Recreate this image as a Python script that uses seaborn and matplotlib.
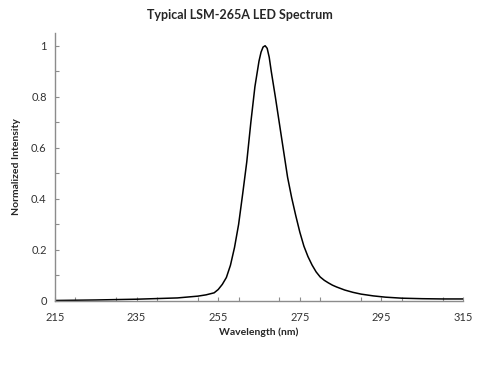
import numpy as np
import pandas as pd
import matplotlib
matplotlib.use("Agg")
import matplotlib.pyplot as plt
from matplotlib.ticker import MultipleLocator
import seaborn as sns

# spectrum
wavelength = [215, 225, 235, 245, 250, 252, 254, 255, 256, 257, 258, 259, 260,
              261, 262, 263, 264, 265, 265.5, 266, 266.5, 267, 267.5, 268, 269,
              270, 271, 272, 273, 274, 275, 276, 277, 278, 279, 280, 281, 282,
              283, 284, 286, 288, 290, 293, 296, 300, 305, 310, 315]
intensity = [0.002, 0.004, 0.007, 0.012, 0.019, 0.024, 0.032, 0.045, 0.065,
             0.092, 0.14, 0.21, 0.30, 0.42, 0.545, 0.70, 0.84, 0.94, 0.975,
             0.995, 1.0, 0.99, 0.955, 0.90, 0.80, 0.695, 0.59, 0.485, 0.405,
             0.335, 0.27, 0.215, 0.174, 0.141, 0.114, 0.094, 0.081, 0.071,
             0.062, 0.055, 0.043, 0.034, 0.027, 0.02, 0.015, 0.011, 0.009,
             0.008, 0.008]

x_ticks = [215, 235, 255, 275, 295, 315]
y_ticks = [0, 0.2, 0.4, 0.6, 0.8, 1]
y_tick_labels = ["0", "0.2", "0.4", "0.6", "0.8", "1"]

df = pd.DataFrame({"Wavelength": wavelength, "Intensity": intensity})

sns.set_style("white")
plt.rcParams["font.family"] = ["Lato", "DejaVu Sans"]

fig = plt.figure(figsize=(4.8, 3.69), dpi=100)
ax = fig.add_axes([0.1146, 0.1843, 0.85, 0.7263])

sns.lineplot(data=df, x="Wavelength", y="Intensity", color="black",
             linewidth=1.1, ax=ax)

ax.set_xlim(215, 315)
ax.set_ylim(0, 1.05)
ax.set_xticks(x_ticks)
ax.set_xticklabels([str(t) for t in x_ticks])
ax.set_yticks(y_ticks)
ax.set_yticklabels(y_tick_labels)
ax.xaxis.set_minor_locator(MultipleLocator(10))
ax.yaxis.set_minor_locator(MultipleLocator(0.1))
ax.tick_params(which="both", bottom=True, left=True, direction="in",
               length=3, width=0.8, color="#8c8c8c", labelsize=8,
               labelcolor="#333333", pad=6)
ax.tick_params(axis="x", which="major", pad=8)

for side in ["top", "right"]:
    ax.spines[side].set_visible(False)
for side in ["left", "bottom"]:
    ax.spines[side].set_color("#8c8c8c")
    ax.spines[side].set_linewidth(1.0)

ax.set_xlabel("Wavelength (nm)", fontsize=7.5, fontweight="bold", labelpad=3)
ax.set_ylabel("Normalized Intensity", fontsize=7.5, fontweight="bold", labelpad=7)
fig.suptitle("Typical LSM-265A LED Spectrum", fontsize=9, fontweight="bold",
             x=0.5, y=0.975)

fig.savefig("out.png", dpi=100)
